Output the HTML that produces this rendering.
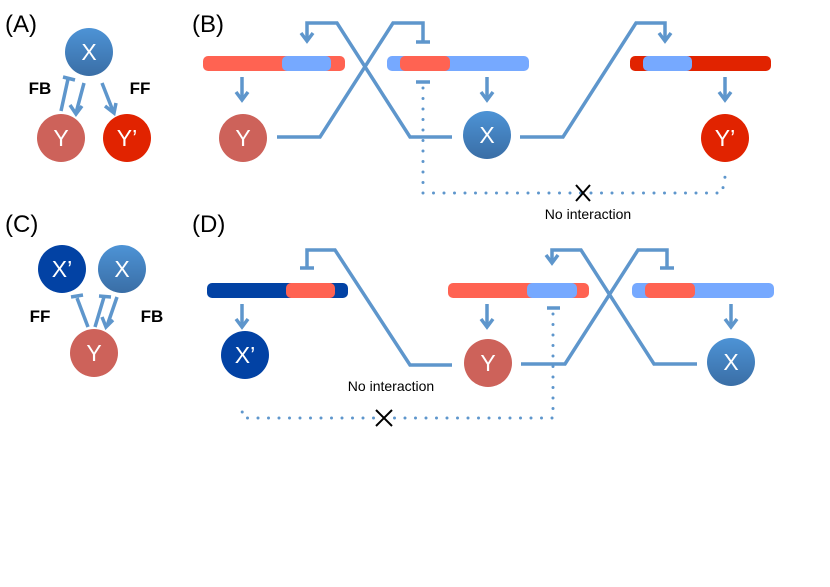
<!DOCTYPE html><html><head><style>body{margin:0;background:#fff}svg{display:block}text{font-family:"Liberation Sans",sans-serif}</style></head><body>
<svg width="830" height="587" viewBox="0 0 830 587" xmlns="http://www.w3.org/2000/svg">
<defs>
<linearGradient id="bx" x1="0" y1="0" x2="0" y2="1"><stop offset="0" stop-color="#4d93d6"/><stop offset="1" stop-color="#3a6ea6"/></linearGradient>
</defs>
<g font-size="24" fill="#000">
<text x="5" y="32">(A)</text><text x="192" y="32">(B)</text>
<text x="5" y="232">(C)</text><text x="192" y="232">(D)</text>
</g>
<g fill="none" stroke="#5e96cc" stroke-width="3.5">
<!-- A -->
<line x1="61" y1="111" x2="68" y2="79"/><line x1="63" y1="77" x2="75" y2="80"/>
<line x1="84" y1="83" x2="76" y2="113"/><path d="M70,105 L76,114 L82,106"/>
<line x1="102" y1="83" x2="113" y2="111"/><path d="M105,106 L114,113 L116,103"/>
<!-- C -->
<line x1="88" y1="327" x2="77" y2="298"/><line x1="71" y1="297" x2="83" y2="295"/>
<line x1="95" y1="327" x2="104" y2="297"/><line x1="99" y1="296" x2="111" y2="297"/>
<line x1="117" y1="297" x2="107" y2="326"/><path d="M102,317 L106,327 L113,320"/>
<!-- B -->
<path d="M277,137 L320,137 L393,23 L423,23 L423,42"/><line x1="416" y1="42" x2="430" y2="42"/>
<path d="M452,137 L410,137 L337,23 L307,23 L307,40"/><path d="M301,33 L307,41 L313,33"/>
<path d="M520,137 L563,137 L636,23 L665,23 L665,40"/><path d="M659,33 L665,41 L671,33"/>
<line x1="242" y1="77" x2="242" y2="100"/><path d="M236,92 L242,100 L248,92"/>
<line x1="487" y1="77" x2="487" y2="100"/><path d="M481,92 L487,100 L493,92"/>
<line x1="725" y1="77" x2="725" y2="100"/><path d="M719,92 L725,100 L731,92"/>
<line x1="416" y1="82" x2="430" y2="82"/>
<!-- D -->
<path d="M307,268 L307,250 L335,250 L410,365 L452,365"/><line x1="300" y1="268" x2="314" y2="268"/>
<path d="M552,262 L552,250 L581,250 L654,364 L697,364"/><path d="M546,255 L552,263 L558,255"/>
<path d="M521,364 L565,364 L638,250 L667,250 L667,268"/><line x1="660" y1="268" x2="674" y2="268"/>
<line x1="242" y1="304" x2="242" y2="327"/><path d="M236,319 L242,327 L248,319"/>
<line x1="487" y1="304" x2="487" y2="327"/><path d="M481,319 L487,327 L493,319"/>
<line x1="731" y1="304" x2="731" y2="327"/><path d="M725,319 L731,327 L737,319"/>
<line x1="547" y1="308" x2="560" y2="308"/>
</g>
<g fill="none" stroke="#5e96cc" stroke-width="3" stroke-linecap="round" stroke-dasharray="0 10.5">
<path d="M423,88 L423,193 L722,193 L725,177"/>
<path d="M553,314 L553,418 L243,418 L241,403"/>
</g>
<rect x="203" y="56" width="142" height="15" rx="5" fill="#ff6352"/><rect x="282" y="56" width="49" height="15" rx="5" fill="#76a9ff"/>
<rect x="387" y="56" width="142" height="15" rx="5" fill="#76a9ff"/><rect x="400" y="56" width="50" height="15" rx="5" fill="#ff6352"/>
<rect x="630" y="56" width="141" height="15" rx="5" fill="#e12300"/><rect x="643" y="56" width="49" height="15" rx="5" fill="#76a9ff"/>
<rect x="207" y="283" width="141" height="15" rx="5" fill="#0242a4"/><rect x="286" y="283" width="49" height="15" rx="5" fill="#ff6352"/>
<rect x="448" y="283" width="141" height="15" rx="5" fill="#ff6352"/><rect x="527" y="283" width="50" height="15" rx="5" fill="#76a9ff"/>
<rect x="632" y="283" width="142" height="15" rx="5" fill="#76a9ff"/><rect x="645" y="283" width="50" height="15" rx="5" fill="#ff6352"/>
<g font-size="23" fill="#fff" text-anchor="middle">
<circle cx="89" cy="52" r="24" fill="url(#bx)"/><text x="89" y="60">X</text>
<circle cx="61" cy="138" r="24" fill="#cd625a"/><text x="61" y="146">Y</text>
<circle cx="127" cy="138" r="24" fill="#e12300"/><text x="127" y="146">Y’</text>
<circle cx="62" cy="269" r="24" fill="#0242a4"/><text x="62" y="277">X’</text>
<circle cx="122" cy="269" r="24" fill="url(#bx)"/><text x="122" y="277">X</text>
<circle cx="94" cy="353" r="24" fill="#cd625a"/><text x="94" y="361">Y</text>
<circle cx="243" cy="138" r="24" fill="#cd625a"/><text x="243" y="146">Y</text>
<circle cx="487" cy="135" r="24" fill="url(#bx)"/><text x="487" y="143">X</text>
<circle cx="725" cy="138" r="24" fill="#e12300"/><text x="725" y="146">Y’</text>
<circle cx="245" cy="355" r="24" fill="#0242a4"/><text x="245" y="363">X’</text>
<circle cx="488" cy="363" r="24" fill="#cd625a"/><text x="488" y="371">Y</text>
<circle cx="731" cy="362" r="24" fill="url(#bx)"/><text x="731" y="370">X</text>
</g>
<g font-size="17" font-weight="bold" fill="#000" text-anchor="middle">
<text x="40" y="94">FB</text><text x="140" y="94">FF</text>
<text x="40" y="322">FF</text><text x="152" y="322">FB</text>
</g>
<g stroke="#000" stroke-width="2">
<path d="M576,185 L590,201 M590,185 L576,201"/>
<path d="M376,410 L392,426 M392,410 L376,426"/>
</g>
<g font-size="14" fill="#000" text-anchor="middle">
<text x="588" y="219">No interaction</text>
<text x="391" y="391">No interaction</text>
</g>
</svg>
</body></html>
